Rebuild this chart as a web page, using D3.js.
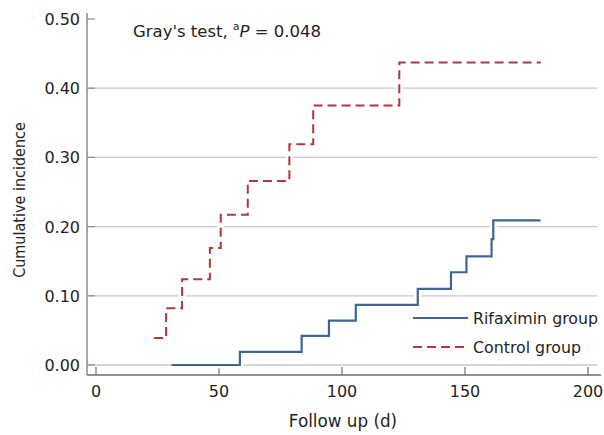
<!DOCTYPE html>
<html>
<head>
<meta charset="utf-8">
<script src="https://cdn.jsdelivr.net/npm/d3@7"></script>
<style>
  body { margin: 0; background: #fff; }
  svg text { font-family: "DejaVu Sans", Verdana, sans-serif; fill: #231f20; }
  svg text.cond { font-family: "DejaVu Sans Condensed", "DejaVu Sans", sans-serif; }
</style>
</head>
<body>
<svg id="fig" width="604" height="435"></svg>
<script>
// step curves (days, cumulative incidence)
const rifaxDays = [30.7, 58.5, 83.6, 94.7, 105.6, 130.8, 144.3, 150.6, 160.8, 161.5, 180.7];
const rifaxInc  = [0, 0.019, 0.042, 0.064, 0.087, 0.110, 0.134, 0.157, 0.182, 0.209, 0.209];

const controlDays = [23.6, 28.5, 35.0, 46.3, 50.7, 61.7, 78.6, 88.3, 123.3, 180.8];
const controlInc  = [0.039, 0.082, 0.124, 0.169, 0.217, 0.266, 0.319, 0.375, 0.437, 0.437];

const xTicks = [0, 50, 100, 150, 200];
const yTicks = [0, 0.1, 0.2, 0.3, 0.4, 0.5];
const gridTicks = [0, 0.1, 0.2, 0.3, 0.4];

const seriesNames = ["Rifaximin group", "Control group"];

const blue = "#3f6593", red = "#b0363f";

const svg = d3.select("#fig");

let xScale = d3.scaleLinear().domain([0, 200]).range([96, 588]);
let yScale = d3.scaleLinear().domain([0, 0.5]).range([365, 19]);

const axisLeftX = 87, axisBottomY = 375;

// gridlines
svg.append("g")
    .selectAll("line")
    .data(gridTicks)
    .join("line")
    .attr("x1", axisLeftX)
    .attr("x2", 597)
    .attr("y1", d => yScale(d))
    .attr("y2", d => yScale(d))
    .attr("stroke", "#c8c8c8")
    .attr("stroke-width", 1.3);

// y axis
svg.append("line")
    .attr("x1", axisLeftX).attr("x2", axisLeftX)
    .attr("y1", 13).attr("y2", axisBottomY)
    .attr("stroke", "#8c8c8c").attr("stroke-width", 1.5);

svg.append("g")
    .selectAll("line")
    .data(yTicks)
    .join("line")
    .attr("x1", axisLeftX).attr("x2", axisLeftX + 8)
    .attr("y1", d => yScale(d)).attr("y2", d => yScale(d))
    .attr("stroke", "#8c8c8c").attr("stroke-width", 1.2);

svg.append("g")
    .selectAll("text")
    .data(yTicks)
    .join("text")
    .attr("x", 80)
    .attr("y", d => yScale(d) + 6)
    .attr("text-anchor", "end")
    .attr("font-size", 16)
    .text(d => d.toFixed(2));

// x axis
svg.append("line")
    .attr("x1", axisLeftX).attr("x2", 601)
    .attr("y1", axisBottomY).attr("y2", axisBottomY)
    .attr("stroke", "#6e6e6e").attr("stroke-width", 1.5);

svg.append("g")
    .selectAll("line")
    .data(xTicks)
    .join("line")
    .attr("x1", d => xScale(d)).attr("x2", d => xScale(d))
    .attr("y1", axisBottomY).attr("y2", axisBottomY - 8)
    .attr("stroke", "#6e6e6e").attr("stroke-width", 1.2);

svg.append("g")
    .selectAll("text")
    .data(xTicks)
    .join("text")
    .attr("x", d => xScale(d))
    .attr("y", 397)
    .attr("text-anchor", "middle")
    .attr("font-size", 16)
    .text(d => d);

// axis titles
svg.append("text")
    .attr("x", 343).attr("y", 427)
    .attr("text-anchor", "middle")
    .attr("font-size", 16.8)
    .text("Follow up (d)");

svg.append("text")
    .attr("class", "cond")
    .attr("transform", "translate(25,200) rotate(-90)")
    .attr("text-anchor", "middle")
    .attr("font-size", 16)
    .text("Cumulative incidence");

// title
let title = svg.append("text")
    .attr("x", 133).attr("y", 36.5)
    .attr("font-size", 16.5);
title.append("tspan").text("Gray's test, ");
title.append("tspan").attr("font-size", 10.5).attr("dy", -7).text("a");
title.append("tspan").attr("dy", 7).attr("font-style", "italic").text("P");
title.append("tspan").text(" = 0.048");

// step lines
const line = d3.line()
    .x(d => xScale(d[0]))
    .y(d => yScale(d[1]))
    .curve(d3.curveStepAfter);

const rifaxPts = rifaxDays.map((d, i) => [d, rifaxInc[i]]);
const controlPts = controlDays.map((d, i) => [d, controlInc[i]]);

// white halo under the curves (cuts the gridlines like the original)
[rifaxPts, controlPts].forEach(pts => {
    svg.append("path")
        .attr("d", line(pts))
        .attr("fill", "none")
        .attr("stroke", "#fff")
        .attr("stroke-width", 7);
});

svg.append("path")
    .attr("d", line(controlPts))
    .attr("fill", "none")
    .attr("stroke", red)
    .attr("stroke-width", 2)
    .attr("stroke-dasharray", "9,5");

svg.append("path")
    .attr("d", line(rifaxPts))
    .attr("fill", "none")
    .attr("stroke", blue)
    .attr("stroke-width", 2.2);

// legend
const legendY = [318, 347];
const legend = svg.append("g");
legend.selectAll("line")
    .data(seriesNames)
    .join("line")
    .attr("x1", 413).attr("x2", 468)
    .attr("y1", (d, i) => legendY[i]).attr("y2", (d, i) => legendY[i])
    .attr("stroke", (d, i) => i === 0 ? blue : red)
    .attr("stroke-width", (d, i) => i === 0 ? 2.2 : 2)
    .attr("stroke-dasharray", (d, i) => i === 0 ? null : "9,5");
legend.selectAll("text")
    .data(seriesNames)
    .join("text")
    .attr("x", 473)
    .attr("y", (d, i) => legendY[i] + 6)
    .attr("font-size", 15.8)
    .text(d => d);
</script>
</body>
</html>
